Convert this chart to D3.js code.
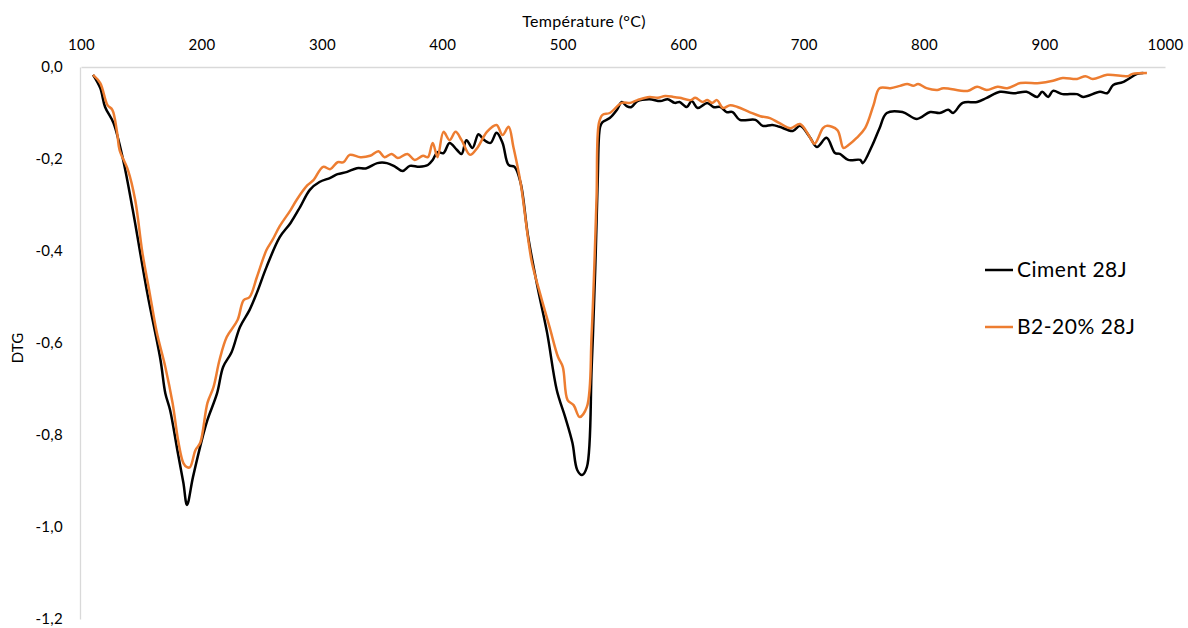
<!DOCTYPE html>
<html>
<head>
<meta charset="utf-8">
<script src="https://cdn.jsdelivr.net/npm/d3@7"></script>
<style>
	body { margin: 0; background: #fff; }
	text { font-family: Lato, "Open Sans", sans-serif; fill: #000; }
</style>
</head>
<body>
<div id="chart"></div>
<script>
var tempCiment = [110, 116, 120, 127, 135, 143, 155, 166, 170, 174, 180, 185, 188, 193, 201, 205, 213, 218, 225, 232, 240, 246, 254, 265, 274, 282, 290, 298, 307, 313, 321, 329, 337, 346, 354, 361, 367, 373, 381, 388, 392, 396, 401, 406, 412, 416, 420, 425, 430, 434, 440, 445, 450, 455, 460, 465, 471, 479, 487, 495, 502, 508, 512, 516, 520, 524, 527, 529, 531, 533, 539, 545, 549, 553, 557, 562, 572, 581, 587, 593, 597, 603, 607, 612, 620, 625, 631, 636, 641, 647, 660, 666, 674, 680, 691, 697, 705, 711, 719, 726, 730, 737, 747, 749, 757, 763, 769, 782, 794, 805, 813, 820, 824, 832, 844, 852, 863, 874, 885, 894, 898, 903, 907, 915, 927, 932, 946, 952, 957, 965, 977, 982];
var dtgCiment = [-0.017, -0.046, -0.087, -0.122, -0.202, -0.311, -0.491, -0.637, -0.709, -0.746, -0.833, -0.904, -0.952, -0.891, -0.804, -0.767, -0.709, -0.652, -0.620, -0.565, -0.528, -0.491, -0.435, -0.370, -0.339, -0.304, -0.267, -0.250, -0.241, -0.233, -0.228, -0.220, -0.220, -0.209, -0.209, -0.217, -0.226, -0.215, -0.217, -0.213, -0.202, -0.185, -0.187, -0.165, -0.180, -0.189, -0.159, -0.176, -0.146, -0.157, -0.165, -0.143, -0.165, -0.213, -0.217, -0.252, -0.365, -0.478, -0.578, -0.702, -0.761, -0.817, -0.876, -0.887, -0.870, -0.652, -0.435, -0.246, -0.130, -0.120, -0.111, -0.093, -0.076, -0.085, -0.087, -0.074, -0.070, -0.074, -0.070, -0.078, -0.076, -0.087, -0.074, -0.089, -0.078, -0.087, -0.087, -0.098, -0.098, -0.115, -0.115, -0.128, -0.126, -0.130, -0.139, -0.128, -0.152, -0.174, -0.154, -0.187, -0.189, -0.202, -0.202, -0.209, -0.170, -0.133, -0.100, -0.098, -0.113, -0.098, -0.100, -0.093, -0.100, -0.078, -0.076, -0.067, -0.054, -0.057, -0.054, -0.065, -0.054, -0.065, -0.052, -0.059, -0.059, -0.065, -0.054, -0.057, -0.039, -0.033, -0.015, -0.013];

var tempB2 = [110, 116, 122, 126, 130, 132, 139, 145, 151, 157, 163, 170, 176, 181, 185, 188, 190.5, 195, 199, 205, 210, 215, 221, 230, 235, 240, 246, 254, 259, 265, 274, 279, 288, 293, 301, 307, 313, 318, 323, 332, 340, 347, 352, 358, 363, 371, 377, 384, 388, 392, 396, 401, 406, 411, 416, 423, 429, 437, 445, 450, 455, 459, 465, 474, 481, 489, 496, 500, 504, 509, 514, 520, 524, 528, 530, 533, 539, 549, 556, 562, 572, 579, 585, 592, 597, 606, 610, 616, 620, 624, 628, 633, 639, 645, 655, 664, 672, 680, 689, 697, 705, 709, 716, 719, 728, 733, 737, 744, 751, 758, 763, 772, 780, 786, 791, 795, 802, 811, 816, 836, 844, 852, 861, 869, 880, 896, 907, 915, 927, 934, 940, 952, 969, 973, 985];
var dtgB2 = [-0.017, -0.035, -0.083, -0.093, -0.143, -0.180, -0.224, -0.289, -0.404, -0.491, -0.578, -0.652, -0.730, -0.817, -0.861, -0.870, -0.870, -0.833, -0.817, -0.730, -0.696, -0.637, -0.587, -0.550, -0.507, -0.500, -0.457, -0.398, -0.376, -0.346, -0.311, -0.289, -0.257, -0.246, -0.217, -0.222, -0.207, -0.207, -0.191, -0.196, -0.193, -0.183, -0.196, -0.189, -0.198, -0.189, -0.202, -0.193, -0.196, -0.165, -0.196, -0.141, -0.159, -0.141, -0.159, -0.191, -0.176, -0.141, -0.126, -0.148, -0.130, -0.174, -0.252, -0.420, -0.491, -0.565, -0.630, -0.652, -0.724, -0.735, -0.761, -0.739, -0.578, -0.289, -0.122, -0.104, -0.100, -0.078, -0.078, -0.072, -0.065, -0.067, -0.063, -0.065, -0.067, -0.072, -0.067, -0.076, -0.072, -0.078, -0.072, -0.089, -0.083, -0.087, -0.098, -0.107, -0.111, -0.122, -0.133, -0.124, -0.152, -0.167, -0.133, -0.128, -0.137, -0.176, -0.170, -0.154, -0.133, -0.083, -0.046, -0.046, -0.041, -0.037, -0.041, -0.037, -0.046, -0.050, -0.046, -0.052, -0.043, -0.050, -0.043, -0.046, -0.035, -0.035, -0.030, -0.024, -0.026, -0.020, -0.026, -0.017, -0.020, -0.015, -0.013];

var xTicks = [100, 200, 300, 400, 500, 600, 700, 800, 900, 1000];
var yTicks = [0, -0.2, -0.4, -0.6, -0.8, -1.0, -1.2];
var seriesNames = ["Ciment 28J", "B2-20% 28J"];
var seriesColors = ["#000000", "#ED7D31"];

drawchart()

function drawchart() {
	var W = 1188;
	var H = 628;
	var margin = { top: 67, right: 23, bottom: 9, left: 81 };

	var svg = d3.select("#chart")
		.append("svg")
		.attr("width", W)
		.attr("height", H);

	var x = d3.scaleLinear().domain([100, 1000]).range([margin.left, W - margin.right]);
	var y = d3.scaleLinear().domain([0, -1.2]).range([margin.top, H - margin.bottom]);

	// axe du haut (température)
	var xAxis = svg.append("g")
		.attr("transform", `translate(0,${margin.top})`)
		.call(d3.axisTop(x).tickValues(xTicks).tickSize(0).tickSizeOuter(0).tickPadding(17).tickFormat(d => d));
	xAxis.select(".domain").attr("stroke", "#d9d9d9").attr("stroke-width", 1.3);
	xAxis.selectAll("text").style("font-size", "15px").style("letter-spacing", "0.3px");

	// axe vertical DTG
	var yAxis = svg.append("g")
		.attr("transform", `translate(${margin.left - 1},0)`)
		.call(d3.axisLeft(y).tickValues(yTicks).tickSize(0).tickSizeOuter(0).tickPadding(17)
			.tickFormat(d => (d === 0 ? "0,0" : d.toFixed(1).replace(".", ","))));
	yAxis.select(".domain").attr("stroke", "#d9d9d9").attr("stroke-width", 1.3);
	yAxis.selectAll("text").style("font-size", "15px").style("letter-spacing", "0.3px");

	svg.append("text")
		.attr("x", 584)
		.attr("y", 27)
		.attr("text-anchor", "middle")
		.style("font-size", "16px")
		.style("letter-spacing", "0.3px")
		.text("Température (°C)");

	svg.append("text")
		.attr("transform", "translate(23,348) rotate(-90)")
		.attr("text-anchor", "middle")
		.style("font-size", "15px")
		.text("DTG");

	var line = d3.line()
		.x(d => x(d[0]))
		.y(d => y(d[1]))
		.curve(d3.curveCatmullRom.alpha(0.5));

	var series = [
		d3.zip(tempCiment, dtgCiment),
		d3.zip(tempB2, dtgB2)
	];

	// le noir est tracé sous l'orange
	[0, 1].forEach(function(i) {
		svg.append("path")
			.datum(series[i])
			.attr("fill", "none")
			.attr("stroke", seriesColors[i])
			.attr("stroke-width", 2.5)
			.attr("stroke-linejoin", "round")
			.attr("d", line);
	});

	// légende
	var legend = svg.append("g");
	var legY = [270, 327];
	seriesNames.forEach(function(name, i) {
		legend.append("line")
			.attr("x1", 985).attr("x2", 1013)
			.attr("y1", legY[i]).attr("y2", legY[i])
			.attr("stroke", seriesColors[i])
			.attr("stroke-width", 2.5);
		legend.append("text")
			.attr("x", 1017)
			.attr("y", legY[i])
			.attr("dy", "0.35em")
			.style("font-size", "21px")
			.style("letter-spacing", "0.5px")
			.text(name);
	});
}
</script>
</body>
</html>
